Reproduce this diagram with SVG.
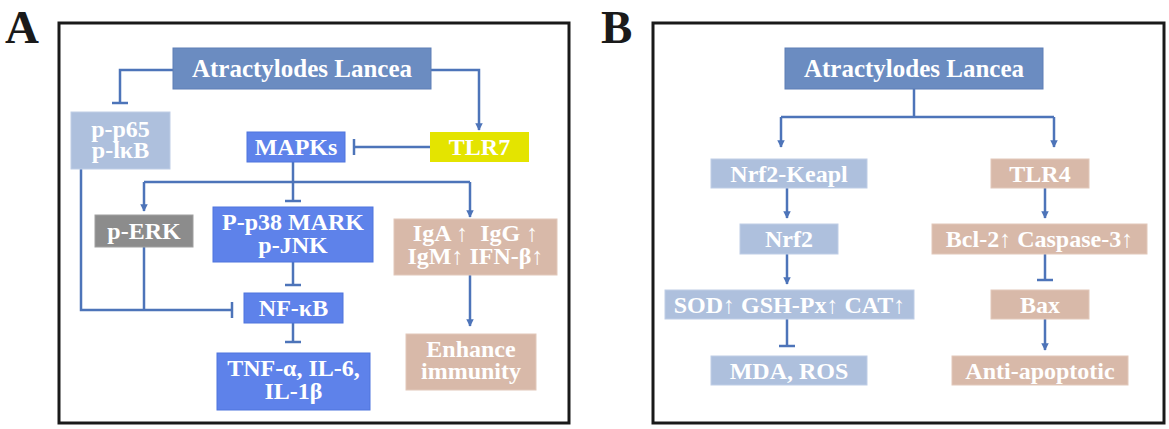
<svg xmlns="http://www.w3.org/2000/svg" width="1169" height="429" viewBox="0 0 1169 429">
<style>
.frame{fill:#fff;stroke:#1a1a1a;stroke-width:3}
.lbl{font-family:"Liberation Serif",serif;font-weight:bold;font-size:47px;fill:#1a1a1a}
.t{font-family:"Liberation Serif",serif;font-weight:bold;font-size:24px;fill:#fff;text-anchor:middle}
.title{font-size:25px}
.main{fill:#6B8CC1;stroke:#5E7FB6;stroke-width:1}
.lb{fill:#AEC0DD;stroke:#BFCEE6;stroke-width:1}
.bb{fill:#5E82EA;stroke:#4F74DD;stroke-width:1}
.yl{fill:#E4E400}
.gr{fill:#8C8C8C;stroke:#A0A0A0;stroke-width:1}
.bg{fill:#D8B9A9;stroke:#E2C8BA;stroke-width:1}
.c{fill:none;stroke:#4D74B9;stroke-width:2.5}
.arr{marker-end:url(#ah)}
</style>
<defs>
<marker id="ah" viewBox="0 0 10 10" refX="9" refY="5" markerWidth="3" markerHeight="3.4" orient="auto" markerUnits="strokeWidth">
<path d="M0,0 L10,5 L0,10 z" fill="#4D74B9"/>
</marker>
</defs>

<text class="lbl" x="5" y="43">A</text>
<text class="lbl" x="601" y="43">B</text>
<rect class="frame" x="59" y="23" width="510" height="400"/>
<rect class="frame" x="653" y="23" width="511" height="400"/>

<g id="connectors">
<!-- Panel A -->
<path class="c" d="M173,70 H120 V103"/>
<path class="c" d="M112,103 H128"/>
<path class="c arr" d="M431,70 H479 V130"/>
<path class="c" d="M430,147 H354"/>
<path class="c" d="M354,139 V155"/>
<path class="c" d="M293,162 V201"/>
<path class="c" d="M285,201 H301"/>
<path class="c" d="M144,182 H470"/>
<path class="c arr" d="M144,182 V211"/>
<path class="c arr" d="M470,182 V217"/>
<path class="c" d="M293,262 V285"/>
<path class="c" d="M285,285 H301"/>
<path class="c" d="M293,323 V342"/>
<path class="c" d="M285,342 H301"/>
<path class="c" d="M81,169 V310 H232"/>
<path class="c" d="M144,247 V310"/>
<path class="c" d="M232,302 V318"/>
<path class="c arr" d="M470,275 V326"/>
<!-- Panel B -->
<path class="c" d="M914,89 V117"/>
<path class="c" d="M781,117 H1054"/>
<path class="c arr" d="M781,117 V147"/>
<path class="c arr" d="M1054,117 V147"/>
<path class="c arr" d="M787,188 V218"/>
<path class="c arr" d="M787,254 V284"/>
<path class="c" d="M787,319 V346"/>
<path class="c" d="M779,346 H795"/>
<path class="c arr" d="M1045,188 V218"/>
<path class="c" d="M1045,254 V280"/>
<path class="c" d="M1037,280 H1053"/>
<path class="c arr" d="M1045,319 V350"/>
</g>

<!-- Panel A nodes -->
<g id="atractylodes-a">
<rect class="main" x="173" y="48" width="258" height="41"/>
<text class="t title" x="302" y="77">Atractylodes Lancea</text>
</g>
<g id="p-p65">
<rect class="lb" x="71" y="112" width="99" height="57"/>
<text class="t" x="120.5" y="137">p-p65<tspan x="120.5" dy="21">p-lκB</tspan></text>
</g>
<g id="mapks">
<rect class="bb" x="247" y="132" width="98" height="30"/>
<text class="t" x="296" y="155">MAPKs</text>
</g>
<g id="tlr7">
<rect class="yl" x="430" y="132" width="99" height="30"/>
<text class="t" x="479.5" y="155">TLR7</text>
</g>
<g id="p-erk">
<rect class="gr" x="95" y="215" width="98" height="32"/>
<text class="t" x="144" y="239">p-ERK</text>
</g>
<g id="p-p38">
<rect class="bb" x="213" y="207" width="160" height="55"/>
<text class="t" x="293" y="230">P-p38 MARK<tspan x="293" dy="23">p-JNK</tspan></text>
</g>
<g id="nf-kb">
<rect class="bb" x="244" y="293" width="99" height="30"/>
<text class="t" x="293.5" y="316">NF-κB</text>
</g>
<g id="tnf">
<rect class="bb" x="217" y="353" width="153" height="57"/>
<text class="t" x="293.5" y="376">TNF-α, IL-6,<tspan x="293.5" dy="23">IL-1β</tspan></text>
</g>
<g id="igs">
<rect class="bg" x="394" y="219" width="163" height="56"/>
<text class="t" x="475.5" y="241" xml:space="preserve">IgA ↑  IgG ↑<tspan x="475.5" dy="23">IgM↑ IFN-β↑</tspan></text>
</g>
<g id="enhance">
<rect class="bg" x="406" y="334" width="130" height="56"/>
<text class="t" x="471" y="357">Enhance<tspan x="471" dy="22">immunity</tspan></text>
</g>

<!-- Panel B nodes -->
<g id="atractylodes-b">
<rect class="main" x="785" y="48" width="258" height="41"/>
<text class="t title" x="914" y="77">Atractylodes Lancea</text>
</g>
<g id="nrf2-keapl">
<rect class="lb" x="711" y="159" width="156" height="29"/>
<text class="t" x="789" y="182">Nrf2-Keapl</text>
</g>
<g id="tlr4">
<rect class="bg" x="991" y="159" width="98" height="29"/>
<text class="t" x="1040" y="182">TLR4</text>
</g>
<g id="nrf2">
<rect class="lb" x="740" y="224" width="98" height="30"/>
<text class="t" x="789" y="247">Nrf2</text>
</g>
<g id="sod">
<rect class="lb" x="665" y="290" width="249" height="29"/>
<text class="t" x="789.5" y="313">SOD↑ GSH-Px↑ CAT↑</text>
</g>
<g id="mda">
<rect class="lb" x="711" y="356" width="156" height="29"/>
<text class="t" x="789" y="379">MDA, ROS</text>
</g>
<g id="bcl2">
<rect class="bg" x="932" y="224" width="215" height="30"/>
<text class="t" x="1039.5" y="247">Bcl-2↑ Caspase-3↑</text>
</g>
<g id="bax">
<rect class="bg" x="991" y="290" width="98" height="29"/>
<text class="t" x="1040" y="313">Bax</text>
</g>
<g id="anti">
<rect class="bg" x="952" y="356" width="176" height="29"/>
<text class="t" x="1040" y="379">Anti-apoptotic</text>
</g>
</svg>
